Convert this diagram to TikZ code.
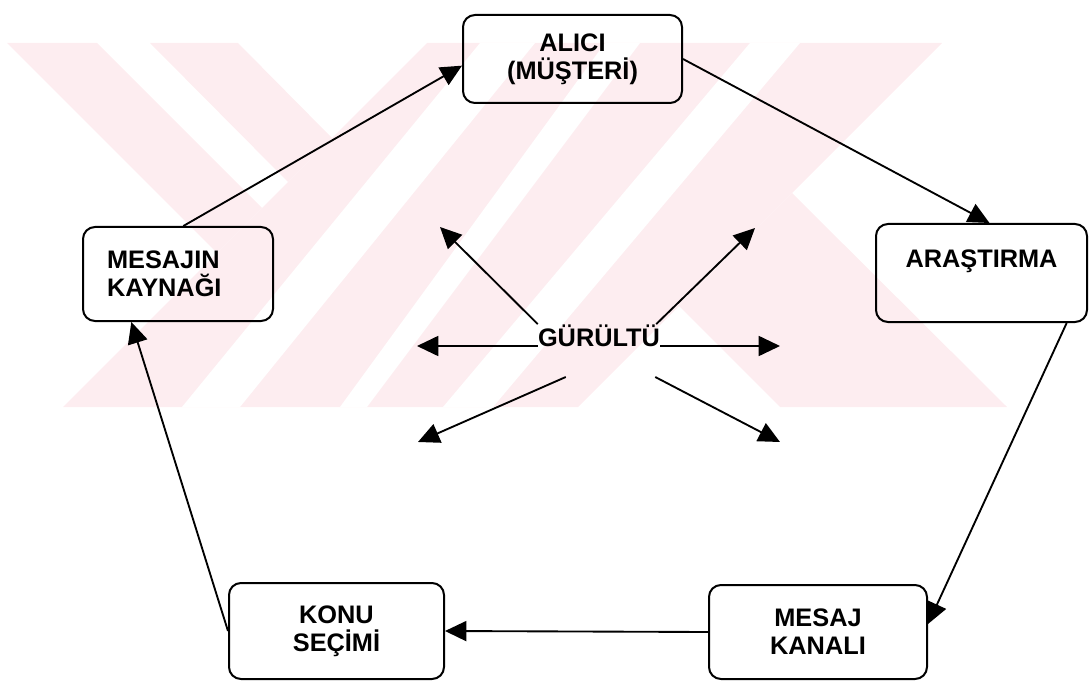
\documentclass[tikz,border=0pt]{standalone}
\usepackage{fontspec}
\setmainfont{Liberation Sans}
\usetikzlibrary{arrows.meta}
\definecolor{wmpink}{RGB}{253,237,240}
\begin{document}
\begin{tikzpicture}[x=0.75pt,y=-0.75pt,
  box/.style={draw=black, line width=1.5pt, rounded corners=9pt,
    font=\bfseries\fontsize{19}{21}\selectfont, align=center, inner sep=4pt},
  lbl/.style={font=\bfseries\fontsize{19}{21}\selectfont},
  arr/.style={line width=1.4pt, -{Triangle[length=16pt,width=15pt]}},
  wm/.style={fill=wmpink, draw=none},
  wmgap/.style={fill=white, draw=none}
]
\useasboundingbox (0,0) rectangle (1089,681);
% watermark
\fill[wm] (7,43)--(97,43)--(262,208)--(217,253)--cycle;
\fill[wm] (150,43)--(238,43)--(332,138)--(288,182)--cycle;
\fill[wm] (427,43)--(942,43)--(578,407)--(63,407)--cycle;
\fill[wm] (679,306)--(792,193)--(1007,407)--(780,407)--cycle;
\fill[wmgap] (480,43)--(535,43)--(240,407)--(182,407)--cycle;
\fill[wmgap] (605,43)--(640,43)--(367,407)--(340,407)--cycle;
\fill[wmgap] (750,43)--(800,43)--(493,407)--(443,407)--cycle;
% boxes
\node[box, minimum width=164.25pt, minimum height=66pt] (alici) at (572.5,59) {ALICI\\(MÜŞTERİ)};
\node[box, minimum width=142.5pt, minimum height=70.5pt, align=left, text width=106.5pt, inner xsep=18pt] (kaynak) at (178,274) {MESAJIN\\KAYNAĞI\\[-8pt]};
\node[box, minimum width=158.25pt, minimum height=73.5pt] (arastirma) at (981.5,273) {ARAŞTIRMA\\\mbox{}};
\node[box, minimum width=161.25pt, minimum height=72pt] (konu) at (336.5,631) {KONU\\SEÇİMİ};
\node[box, minimum width=163.5pt, minimum height=70.5pt] (kanal) at (818,632) {MESAJ\\KANALI};
% cycle connectors
\draw[arr] ([xshift=4pt]kaynak.north) -- ([yshift=-5pt]alici.west);
\draw[arr] (alici.east) -- ([xshift=6pt]arastirma.north);
\draw[arr] ([xshift=-16pt]arastirma.south east) -- ([yshift=6pt]kanal.east);
\draw[arr] (kanal.west) -- (konu.east);
\draw[arr] (konu.west) -- ([xshift=-35pt]kaynak.south);
% noise
\node[lbl, inner sep=0pt, anchor=base] (g) at (599,346) {GÜRÜLTÜ};
\coordinate (nUL) at (440,227);
\coordinate (nUR) at (755,228);
\coordinate (nL) at (417,346);
\coordinate (nR) at (780,346);
\coordinate (nDL) at (418,442);
\coordinate (nDR) at (780,442);
\draw[arr] (g.north west) -- (nUL);
\draw[arr] ([xshift=-3pt]g.north east) -- (nUR);
\draw[arr] (g.base west) -- (nL);
\draw[arr] (g.base east) -- (nR);
\draw[arr] ([shift={(28,31)}]g.base west) -- (nDL);
\draw[arr] ([shift={(-5,31)}]g.base east) -- (nDR);
\end{tikzpicture}
\end{document}
